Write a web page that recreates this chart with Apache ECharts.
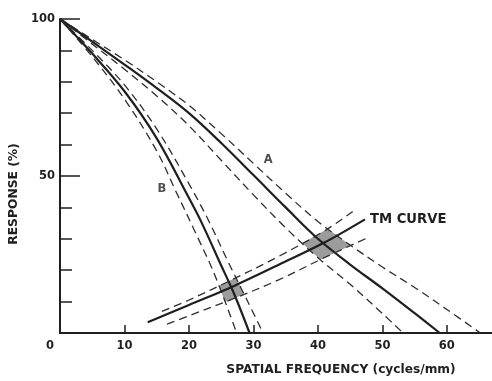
<!DOCTYPE html>
<html>
<head>
<meta charset="utf-8">
<script src="https://cdn.jsdelivr.net/npm/echarts@6/dist/echarts.min.js"></script>
<style>
  html, body { margin: 0; padding: 0; background: #fff; overflow: hidden; }
  #chart { width: 492px; height: 381px; }
</style>
</head>
<body>
<div id="chart"></div>
<script>
// Response (%) against spatial frequency (cycles/mm)
const xTickLabels = [0, 10, 20, 30, 40, 50, 60];
const yTickLabels = [50, 100];

// Curve A with its two tolerance bounds
const curveA      = [[0,100],[5,92.8],[10,85.5],[15,78],[20,70],[25,60.5],[30,50.3],[35,40],[40,30],[45,21.8],[50,14.2],[55,6.3],[58.9,0]];
const curveAUpper = [[0,100],[5,93.5],[10,87],[15,80],[20,72.5],[25,63.5],[30,54],[35,44.5],[40,35.5],[45,28],[50,21],[55,14.5],[60,7.5],[65.2,0]];
const curveALower = [[0,100],[5,92],[10,84],[15,75.5],[20,66],[25,55],[30,44],[35,33.5],[40,24],[45,15.5],[50,6.2],[53.2,0]];

// Curve B with its two tolerance bounds
const curveB      = [[0,100],[5,89],[10,77],[15,62],[20,43],[22,35],[25,21.5],[27,12.5],[29.4,0]];
const curveBUpper = [[0,100],[5,90],[10,79],[15,65],[20,47.5],[23,36],[26,23],[29,10.5],[31.5,0]];
const curveBLower = [[0,100],[5,88],[10,74.5],[15,58],[18,45],[21,32],[24,18.5],[27.4,0]];

// TM curve with its two tolerance bounds
const tmCurve = [[13.6,3.4],[20,8.9],[27,15],[34,21.8],[41,28.8],[47.3,36.2]];
const tmUpper = [[15.8,6.9],[20,10.5],[27,17.3],[34,24.5],[41,32.5],[45.4,38.7]];
const tmLower = [[16.6,2.8],[20,5.5],[27,11],[34,17],[41,24],[47.7,30.3]];

const curveTags = [
  { name: 'A', value: [32.3, 55] },
  { name: 'B', value: [15.8, 46] }
];
const tmName = 'TM CURVE';

// Crossing point of two polylines (data space)
function crossing(p, q) {
  for (let i = 0; i < p.length - 1; i++) {
    for (let j = 0; j < q.length - 1; j++) {
      const [x1, y1] = p[i], [x2, y2] = p[i + 1];
      const [x3, y3] = q[j], [x4, y4] = q[j + 1];
      const d = (x1 - x2) * (y3 - y4) - (y1 - y2) * (x3 - x4);
      if (Math.abs(d) < 1e-12) continue;
      const t = ((x1 - x3) * (y3 - y4) - (y1 - y3) * (x3 - x4)) / d;
      const u = -((x1 - x2) * (y1 - y3) - (y1 - y2) * (x1 - x3)) / d;
      if (t >= 0 && t <= 1 && u >= 0 && u <= 1) {
        return [x1 + t * (x2 - x1), y1 + t * (y2 - y1)];
      }
    }
  }
  return null;
}

// Tolerance overlap zones where the bounds cross
function zone(lo, hi) {
  return [crossing(lo, tmUpper), crossing(hi, tmUpper), crossing(hi, tmLower), crossing(lo, tmLower)];
}
const zones = [zone(curveALower, curveAUpper), zone(curveBLower, curveBUpper)];

const ink = '#1f1f1f';
const solid = { color: ink, width: 2.2 };
const dashed = { color: '#2e2e2e', width: 1.3, type: [8, 5] };
const fontFamily = 'DejaVu Sans';

function lineSeries(data, style, extra) {
  return Object.assign({
    type: 'line', data: data, smooth: 0.35, symbol: 'none',
    lineStyle: style, silent: true, z: 3, animation: false
  }, extra || {});
}

const chart = echarts.init(document.getElementById('chart'), null, { renderer: 'canvas' });
chart.setOption({
  animation: false,
  backgroundColor: '#fff',
  grid: { left: 60, right: 0, top: 19, bottom: 42, containLabel: false },
  xAxis: {
    type: 'value', min: 0, max: 67, interval: 10,
    name: 'SPATIAL FREQUENCY (cycles/mm)', nameLocation: 'middle', nameGap: 31,
    nameTextStyle: { fontFamily: fontFamily, fontWeight: 'bold', fontSize: 12.2, color: ink, padding: [0, 0, 0, 130] },
    axisLine: { lineStyle: { color: ink, width: 2 } },
    axisTick: { inside: true, length: 8, customValues: xTickLabels.slice(1), lineStyle: { color: ink, width: 1.5 } },
    axisLabel: {
      margin: 7, color: ink, fontFamily: fontFamily, fontWeight: 'bold', fontSize: 11.5,
      customValues: xTickLabels,
      formatter: v => (v === 0 ? '{z|0}' : String(v)),
      rich: { z: { padding: [0, 20, 0, 0], fontFamily: fontFamily, fontWeight: 'bold', fontSize: 11.5, color: ink } }
    },
    splitLine: { show: false }
  },
  yAxis: [{
    type: 'value', min: 0, max: 100, interval: 10,
    name: 'RESPONSE (%)', nameLocation: 'middle', nameGap: 28,
    nameTextStyle: { fontFamily: fontFamily, fontWeight: 'bold', fontSize: 12.3, color: ink, padding: [0, 36, 0, 0] },
    axisLine: { show: true, lineStyle: { color: ink, width: 2 } },
    axisTick: { inside: true, length: 12, lineStyle: { color: ink, width: 1.5 } },
    axisLabel: {
      margin: 5, color: ink, fontFamily: fontFamily, fontWeight: 'bold', fontSize: 11.5,
      formatter: v => (yTickLabels.indexOf(v) < 0 ? '' : String(v))
    },
    splitLine: { show: false }
  }, {
    type: 'value', min: 0, max: 100, interval: 50, position: 'left',
    axisLine: { show: false },
    axisTick: { show: true, inside: true, length: 20, lineStyle: { color: ink, width: 1.5 } },
    axisLabel: { show: false },
    splitLine: { show: false }
  }],
  series: [
    {
      type: 'custom', coordinateSystem: 'cartesian2d', silent: true, z: 1, clip: false,
      data: zones.map(z => z[0]),
      renderItem: (params, api) => ({
        type: 'polygon',
        shape: { points: zones[params.dataIndex].map(p => api.coord(p)) },
        style: { fill: '#9c9c9c' }
      })
    },
    lineSeries(curveAUpper, dashed),
    lineSeries(curveA, solid),
    lineSeries(curveALower, dashed),
    lineSeries(curveBUpper, dashed),
    lineSeries(curveB, solid),
    lineSeries(curveBLower, dashed),
    lineSeries(tmUpper, dashed),
    lineSeries(tmLower, dashed),
    lineSeries(tmCurve, solid, {
      endLabel: {
        show: true, formatter: tmName, distance: 5,
        fontFamily: fontFamily, fontWeight: 'bold', fontSize: 13.2, color: ink
      }
    }),
    {
      type: 'scatter', data: curveTags, symbolSize: 0, silent: true, z: 4,
      label: {
        show: true, position: 'inside', formatter: '{b}',
        fontFamily: fontFamily, fontWeight: 'bold', fontSize: 11.5, color: ink
      }
    }
  ]
});
</script>
</body>
</html>
